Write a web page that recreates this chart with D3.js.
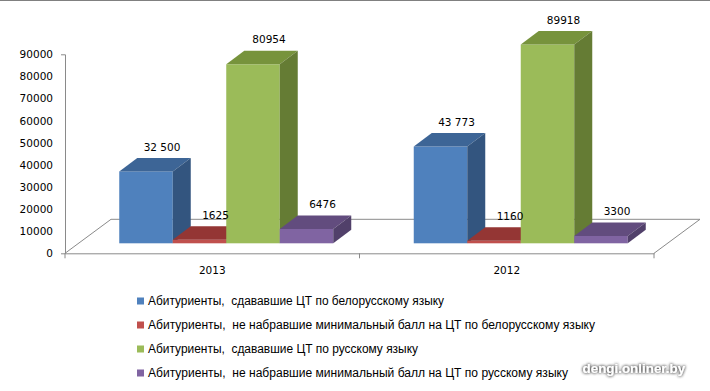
<!DOCTYPE html>
<html><head><meta charset="utf-8">
<script src="https://cdn.jsdelivr.net/npm/d3@7"></script>
<style>body{margin:0;background:#fff}svg{display:block}</style>
</head><body>
<script>
// ---- data ----
const categories = ["2013", "2012"];
const seriesNames = [
  "Абитуриенты,  сдававшие ЦТ по белорусскому языку",
  "Абитуриенты,  не набравшие минимальный балл на ЦТ по белорусскому языку",
  "Абитуриенты,  сдававшие ЦТ по русскому языку",
  "Абитуриенты,  не набравшие минимальный балл на ЦТ по русскому языку"
];
const belTaken  = [32500, 43773];
const belFailed = [1625, 1160];
const rusTaken  = [80954, 89918];
const rusFailed = [6476, 3300];
const belTakenLabels  = ["32 500", "43 773"];
const belFailedLabels = ["1625", "1160"];
const rusTakenLabels  = ["80954", "89918"];
const rusFailedLabels = ["6476", "3300"];
const yTicks = [0, 10000, 20000, 30000, 40000, 50000, 60000, 70000, 80000, 90000];

const seriesValues = [belTaken, belFailed, rusTaken, rusFailed];
const seriesLabels = [belTakenLabels, belFailedLabels, rusTakenLabels, rusFailedLabels];

// ---- styles / layout ----
const frontColors = ["#4F81BD", "#C0504D", "#9BBB59", "#8064A2"];
const topColors   = ["#3D6596", "#943634", "#77933C", "#624C7E"];
const sideColors  = ["#33557F", "#7D2E2C", "#657C34", "#51406A"];
const legendTextWidths = [296, 447, 270, 420];
const axisColor = "#8a8a8a";
const numFont = "'DejaVu Sans', Verdana, sans-serif";
const legFont = "'Liberation Sans', Arial, sans-serif";

const W = 710, H = 391;
const svg = d3.select("body").append("svg").attr("width", W).attr("height", H);

const defs = svg.append("defs");
const f = defs.append("filter").attr("id", "sh").attr("x", "-20%").attr("y", "-60%").attr("width", "140%").attr("height", "220%");
f.append("feGaussianBlur").attr("in", "SourceAlpha").attr("stdDeviation", 1.8).attr("result", "b");
f.append("feFlood").attr("flood-color", "#444").attr("flood-opacity", 0.85).attr("result", "c");
f.append("feComposite").attr("in", "c").attr("in2", "b").attr("operator", "in").attr("result", "s");
const fm = f.append("feMerge");
fm.append("feMergeNode").attr("in", "s");
fm.append("feMergeNode").attr("in", "s");
fm.append("feMergeNode").attr("in", "SourceGraphic");

// top border
svg.append("line").attr("x1", 0).attr("x2", W).attr("y1", 0.5).attr("y2", 0.5)
  .attr("stroke", "#808080").attr("stroke-width", 1);

// geometry
const axisLeftX = 65, axisRightX = 654, baseY = 253.3, topY = 54.3;
const floorDX = 46, floorDY = -34;
const planeDX = 14, planeDY = -10;     // bar front plane offset into depth
const depthDX = 18, depthDY = -13.5;   // bar depth

const y = d3.scaleLinear().domain([0, 90000]).range([baseY, topY]);
const x = d3.scaleBand().domain(categories).range([axisLeftX, axisRightX]);
const inner = d3.scaleBand().domain(d3.range(seriesValues.length)).range([-107, 107]);

// floor outline
const floor = svg.append("g").attr("fill", "none").attr("stroke", axisColor).attr("stroke-width", 1);
floor.append("path").attr("d",
  `M${axisLeftX},${baseY}L${axisLeftX + floorDX},${baseY + floorDY}H${axisRightX + floorDX}L${axisRightX},${baseY}`);

// y axis
const yAxis = svg.append("g").attr("transform", `translate(${axisLeftX},0)`)
  .call(d3.axisLeft(y).tickValues(yTicks).tickFormat(d3.format("d")).tickSizeInner(0).tickSizeOuter(4).tickPadding(12));
yAxis.select(".domain").attr("stroke", axisColor);
yAxis.selectAll("text").attr("font-family", numFont).attr("font-size", 10.5).attr("fill", "#000");

// x axis
const xAxis = svg.append("g").attr("transform", `translate(0,${baseY})`)
  .call(d3.axisBottom(x).tickSize(0).tickPadding(13));
xAxis.select(".domain").attr("stroke", axisColor);
xAxis.selectAll("text").attr("font-family", numFont).attr("font-size", 10.5).attr("fill", "#000");
const bounds = categories.map(c => x(c)).concat([x.range()[1]]);
xAxis.selectAll(".bnd").data(bounds).enter().append("line")
  .attr("x1", d => d).attr("x2", d => d).attr("y1", 0).attr("y2", 5).attr("stroke", axisColor);

// bars
const bars = svg.append("g");
const labels = [];
categories.forEach((c, ci) => {
  seriesValues.forEach((vals, si) => {
    const v = vals[ci];
    const bw = inner.bandwidth();
    const x0 = x(c) + x.bandwidth() / 2 + planeDX + inner(si);
    const b = y(0) + planeDY;
    const t = y(v) + planeDY;
    const g = bars.append("g");
    g.append("rect").attr("x", x0).attr("y", t).attr("width", bw).attr("height", b - t)
      .attr("fill", frontColors[si]);
    g.append("path").attr("d",
      `M${x0},${t}L${x0 + bw},${t}L${x0 + bw + depthDX},${t + depthDY}L${x0 + depthDX},${t + depthDY}Z`)
      .attr("fill", topColors[si]);
    g.append("path").attr("d",
      `M${x0 + bw},${t}L${x0 + bw + depthDX},${t + depthDY}L${x0 + bw + depthDX},${b + depthDY}L${x0 + bw},${b}Z`)
      .attr("fill", sideColors[si]);
    labels.push({ x: x0 + bw / 2 + depthDX - 2, y: t + depthDY - 11, text: seriesLabels[si][ci] });
  });
});

svg.append("g").selectAll("text").data(labels).enter().append("text")
  .attr("x", d => d.x).attr("y", d => d.y).attr("dy", "0.35em")
  .attr("text-anchor", "middle").attr("font-family", numFont).attr("font-size", 10.5)
  .attr("fill", "#000").text(d => d.text);

// legend
const leg = svg.append("g");
seriesNames.forEach((name, i) => {
  const ry = 301 + i * 24;
  leg.append("rect").attr("x", 137).attr("y", ry - 3.5).attr("width", 7).attr("height", 7).attr("fill", frontColors[i]);
  leg.append("text").attr("x", 148).attr("y", ry).attr("dy", "0.35em")
    .attr("font-family", legFont).attr("font-size", 12.5).attr("fill", "#000")
    .attr("textLength", legendTextWidths[i]).attr("lengthAdjust", "spacingAndGlyphs")
    .style("white-space", "pre").text(name);
});

// watermark
svg.append("text").attr("x", 582.5).attr("y", 373)
  .attr("font-family", "'Liberation Sans', Arial, sans-serif").attr("font-weight", "bold")
  .attr("font-size", 13.4).attr("fill", "#fff").attr("filter", "url(#sh)")
  .text("dengi.onliner.by");
</script>
</body></html>
